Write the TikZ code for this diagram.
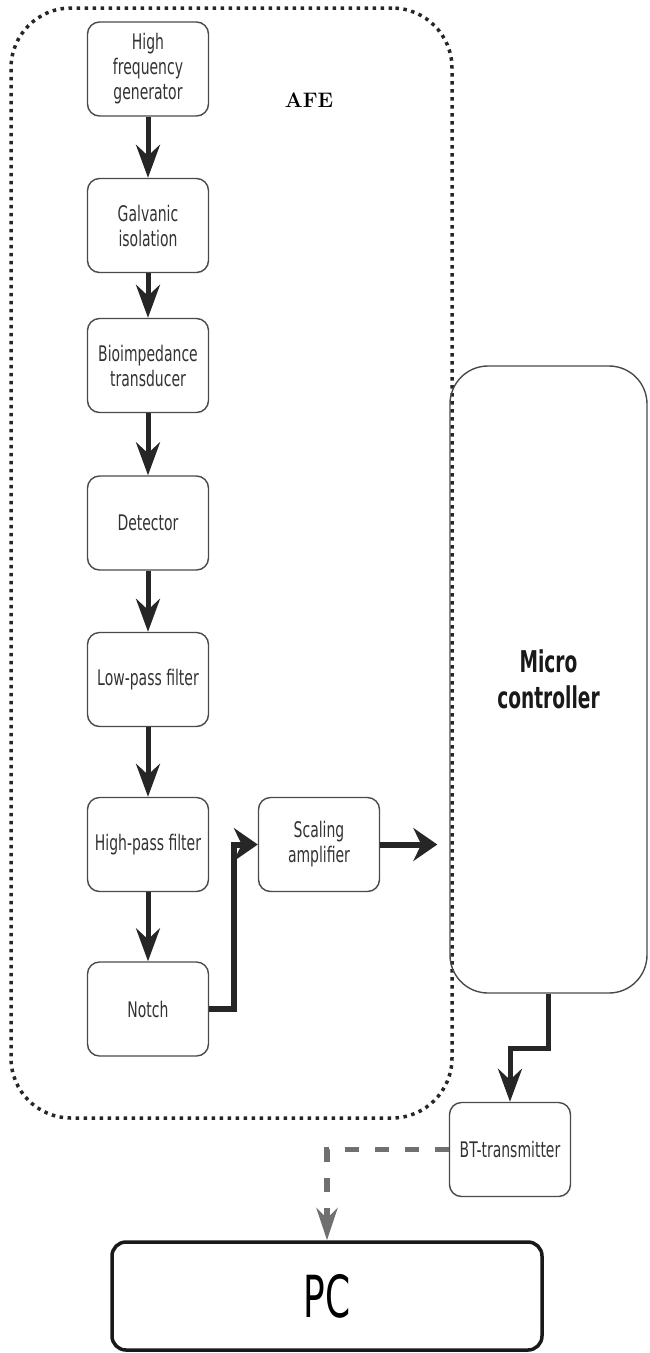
\documentclass[tikz,border=0pt]{standalone}
\usepackage{fontspec}
\newfontfamily\blockfont[FakeStretch=0.65]{DejaVu Sans}
\newfontfamily\mcufont[FakeStretch=0.62]{DejaVu Sans Bold}
\newfontfamily\pcfont[FakeStretch=0.62]{DejaVu Sans}
\usepackage{tikz}
\usetikzlibrary{positioning}
\usetikzlibrary{arrows.meta}
\definecolor{boxline}{HTML}{4A4A4A}
\definecolor{boxtext}{HTML}{333333}
\definecolor{btgray}{HTML}{707070}

\begin{document}
\begin{tikzpicture}[x=1pt,y=-1pt]
        \tikzstyle{block}=[draw=boxline,line width=1.4pt,rounded corners=12pt,
            minimum width=121pt,minimum height=94pt,align=center,inner sep=2pt,
            text=boxtext,font=\blockfont\fontsize{21.5}{25}\selectfont]
        \tikzstyle{flow}=[-{Stealth[length=33pt,width=24pt,inset=11pt]},
            line width=5pt,draw=black!85]
        \tikzstyle{flowwide}=[-{Stealth[length=24pt,width=33pt,inset=8pt]},
            line width=6pt,draw=black!85]
        \useasboundingbox (0,0) rectangle (649,1353);

        % analog front end
        \node[draw=black!85,line width=3.5pt,dash pattern=on 3.5pt off 4.5pt,
            rounded corners=60pt,minimum width=441pt,minimum height=1110pt]
            (afe) at (231.5,563) {};
        \node[font=\bfseries\fontsize{21}{24}\selectfont] (afelabel) at (309,100) {AFE};

        \node[block] (hfg) at (148,69) {High\\frequency\\generator};
        \node[block] (gal) at (148,225.5) {Galvanic\\isolation};
        \node[block] (bio) at (148,365.5) {Bioimpedance\\transducer};
        \node[block] (det) at (148,523) {Detector};
        \node[block] (lpf) at (148,679.5) {Low-pass filter};
        \node[block] (hpf) at (148,844.5) {High-pass filter};
        \node[block] (notch) at (148,1009) {Notch};
        \node[block] (amp) at (319,844.5) {Scaling\\amplifier};

        \node[draw=boxline,line width=1.4pt,rounded corners=38pt,
            minimum width=197pt,minimum height=627pt,align=center,
            text=black!90,font=\mcufont\fontsize{30}{36}\selectfont]
            (mcu) at (548.5,679.5) {Micro\\controller};
        \node[block] (bt) at (510,1149.5) {BT-transmitter};
        \node[draw=black!90,line width=3.5pt,rounded corners=14pt,
            minimum width=430pt,minimum height=108pt,
            font=\pcfont\fontsize{58}{62}\selectfont]
            (pc) at (327,1296) {PC};

        \draw[flow] (hfg) -- (gal);
        \draw[flow] (gal) -- (bio);
        \draw[flow] (bio) -- (det);
        \draw[flow] (det) -- (lpf);
        \draw[flow] (lpf) -- (hpf);
        \draw[flow] (hpf) -- (notch);

        \draw[flowwide] (notch.east) -- ++(25,0) |- (amp.west);
        \draw[flowwide, shorten >=12pt] (amp.east) -- (amp.east -| mcu.west);
        \draw[flow] (mcu.south) -- ++(0,55) -| (bt.north);

        \draw[-{Stealth[length=32pt,width=21pt,inset=10pt,fill=btgray]},
            line width=5.5pt, draw=btgray, dash pattern=on 14pt off 16pt]
            (bt.west) -| (pc.north);
\end{tikzpicture}
\end{document}
